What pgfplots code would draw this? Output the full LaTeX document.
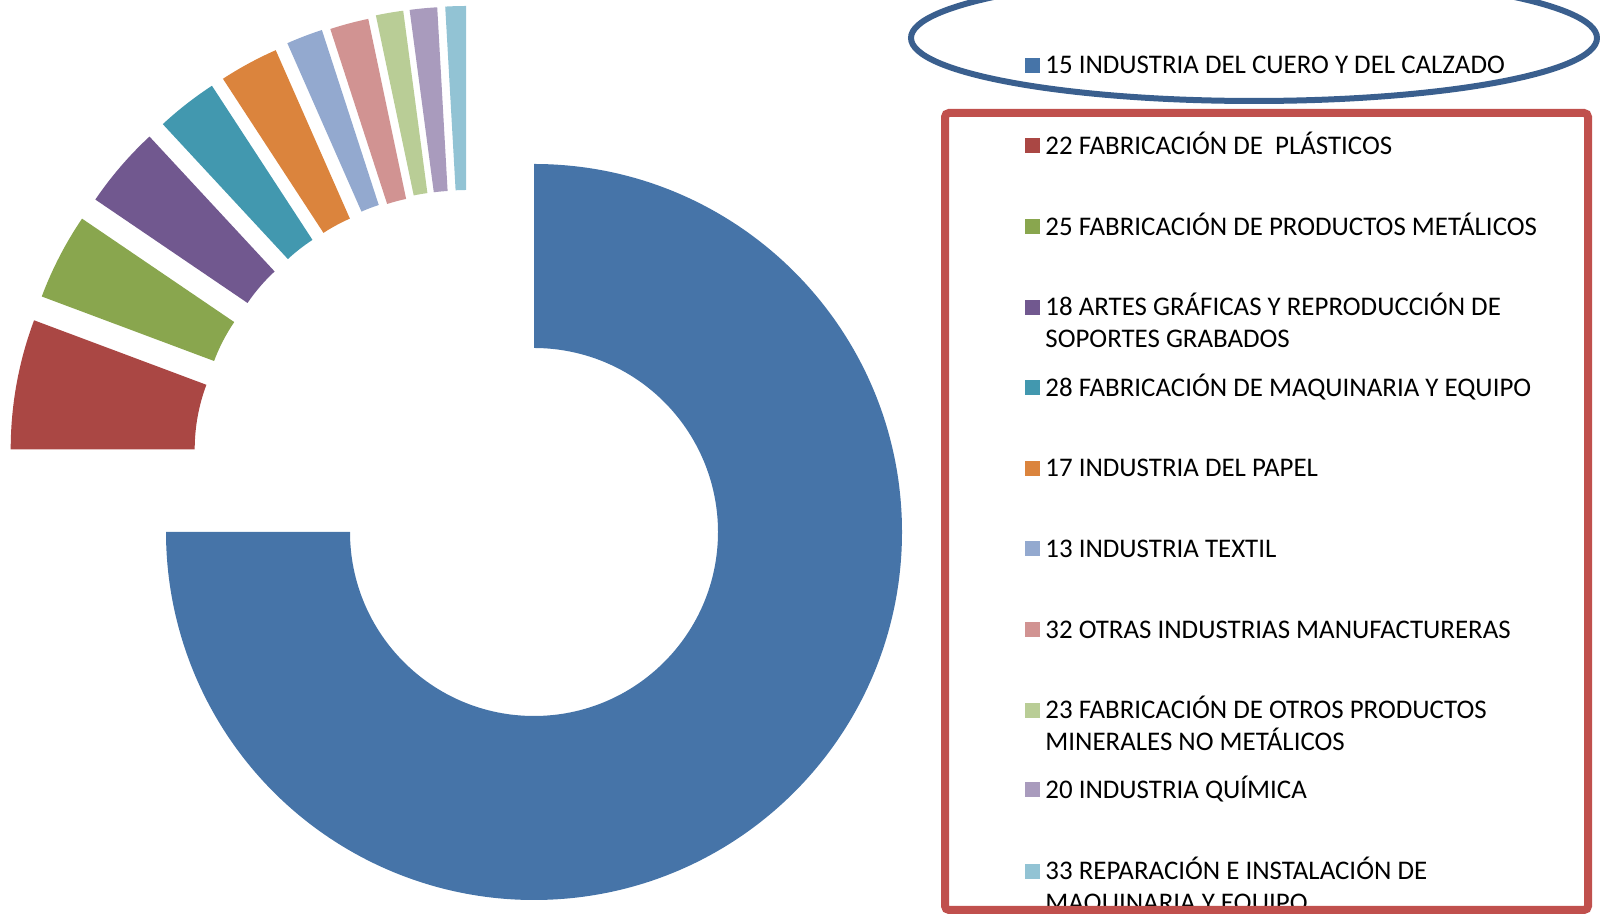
\documentclass[border=0pt]{standalone}
\usepackage{pgfplots}
\pgfplotsset{compat=1.18}
\usepackage{pgfplotstable}
\usepackage{fontspec}
\setmainfont{Carlito}
\usetikzlibrary{calc}

\definecolor{s0}{HTML}{4674A8}
\definecolor{s1}{HTML}{AA4744}
\definecolor{s2}{HTML}{89A64E}
\definecolor{s3}{HTML}{71588F}
\definecolor{s4}{HTML}{4298AF}
\definecolor{s5}{HTML}{DB843D}
\definecolor{s6}{HTML}{93A9CF}
\definecolor{s7}{HTML}{D19392}
\definecolor{s8}{HTML}{B9CD96}
\definecolor{s9}{HTML}{A99BBD}
\definecolor{s10}{HTML}{92C3D4}
\definecolor{boxred}{HTML}{C0504D}
\definecolor{ellblue}{HTML}{3A5F8E}

% share (%) of each branch, and how far each slice is pulled out (px)
\pgfplotstableread{
v     dx      dy
75.0  0       0
5.7   -155.3  82.7
3.8   -147.6  106.5
3.6   -134.3  125.6
2.7   -121    138
2.6   -110    145
1.6   -98.4   152
1.7   -90     153
1.2   -82.4   156.5
1.2   -76     157.3
0.9   -68     158
}\slices

\newcommand{\entry}[3]{% colour, centre y, text
  \fill[#1] (axis cs:1025,#2-7.5) rectangle (axis cs:1040,#2+7.5);
  \node[anchor=base west, inner sep=0pt] at (axis cs:1045,#2-8.6) {#3};
}

\begin{document}
\begin{tikzpicture}
\begin{axis}[
    name=ax,
    hide axis,
    x=0.5pt, y=0.5pt,
    xmin=0, xmax=1600, ymin=0, ymax=914,
    enlargelimits=false,
    clip=true,
    font=\fontsize{13.45}{16}\selectfont,
  ]
  \pgfplotsextra{
    \def\start{90}
    \pgfplotsforeachungrouped \i in {0,...,10}{
      \pgfplotstablegetelem{\i}{v}\of\slices \let\val\pgfplotsretval
      \pgfplotstablegetelem{\i}{dx}\of\slices \let\dx\pgfplotsretval
      \pgfplotstablegetelem{\i}{dy}\of\slices \let\dy\pgfplotsretval
      \pgfmathsetmacro\stop{\start-3.6*\val}
      \pgfmathsetmacro\cx{534+\dx}
      \pgfmathsetmacro\cy{382+\dy}
      \fill[s\i] ($(axis cs:\cx,\cy)+(\start:92pt)$)
        -- ($(axis cs:\cx,\cy)+(\start:184pt)$)
        arc[start angle=\start, end angle=\stop, radius=184pt]
        -- ($(axis cs:\cx,\cy)+(\stop:92pt)$)
        arc[start angle=\stop, end angle=\start, radius=92pt] -- cycle;
      \global\let\start\stop
    }
    % legend
    \entry{s0}{848.7}{15 INDUSTRIA DEL CUERO Y DEL CALZADO}
    \entry{s1}{768.1}{22 FABRICACIÓN DE~~PLÁSTICOS}
    \entry{s2}{687.5}{25 FABRICACIÓN DE PRODUCTOS METÁLICOS}
    \entry{s3}{606.8}{18 ARTES GRÁFICAS Y REPRODUCCIÓN DE}
    \node[anchor=base west, inner sep=0pt] at (axis cs:1045,566.6) {SOPORTES GRABADOS};
    \entry{s4}{526.2}{28 FABRICACIÓN DE MAQUINARIA Y EQUIPO}
    \entry{s5}{445.6}{17 INDUSTRIA DEL PAPEL}
    \entry{s6}{365}{13 INDUSTRIA TEXTIL}
    \entry{s7}{284.4}{32 OTRAS INDUSTRIAS MANUFACTURERAS}
    \entry{s8}{203.8}{23 FABRICACIÓN DE OTROS PRODUCTOS}
    \node[anchor=base west, inner sep=0pt] at (axis cs:1045,163.6) {MINERALES NO METÁLICOS};
    \entry{s9}{124.2}{20 INDUSTRIA QUÍMICA}
    \entry{s10}{42.6}{33 REPARACIÓN E INSTALACIÓN DE}
    \node[anchor=base west, inner sep=0pt] at (axis cs:1045,2.4) {MAQUINARIA Y EQUIPO};
    % frames
    \draw[ellblue, line width=3pt] (axis cs:1254,876) ellipse [x radius=171.5pt, y radius=31.5pt];
    \draw[boxred, line width=4pt, rounded corners=2pt]
      (axis cs:945,4) rectangle (axis cs:1588,801);
  }
\end{axis}
\pgfresetboundingbox
\path (ax.south west) rectangle (ax.north east);
\end{tikzpicture}
\end{document}
